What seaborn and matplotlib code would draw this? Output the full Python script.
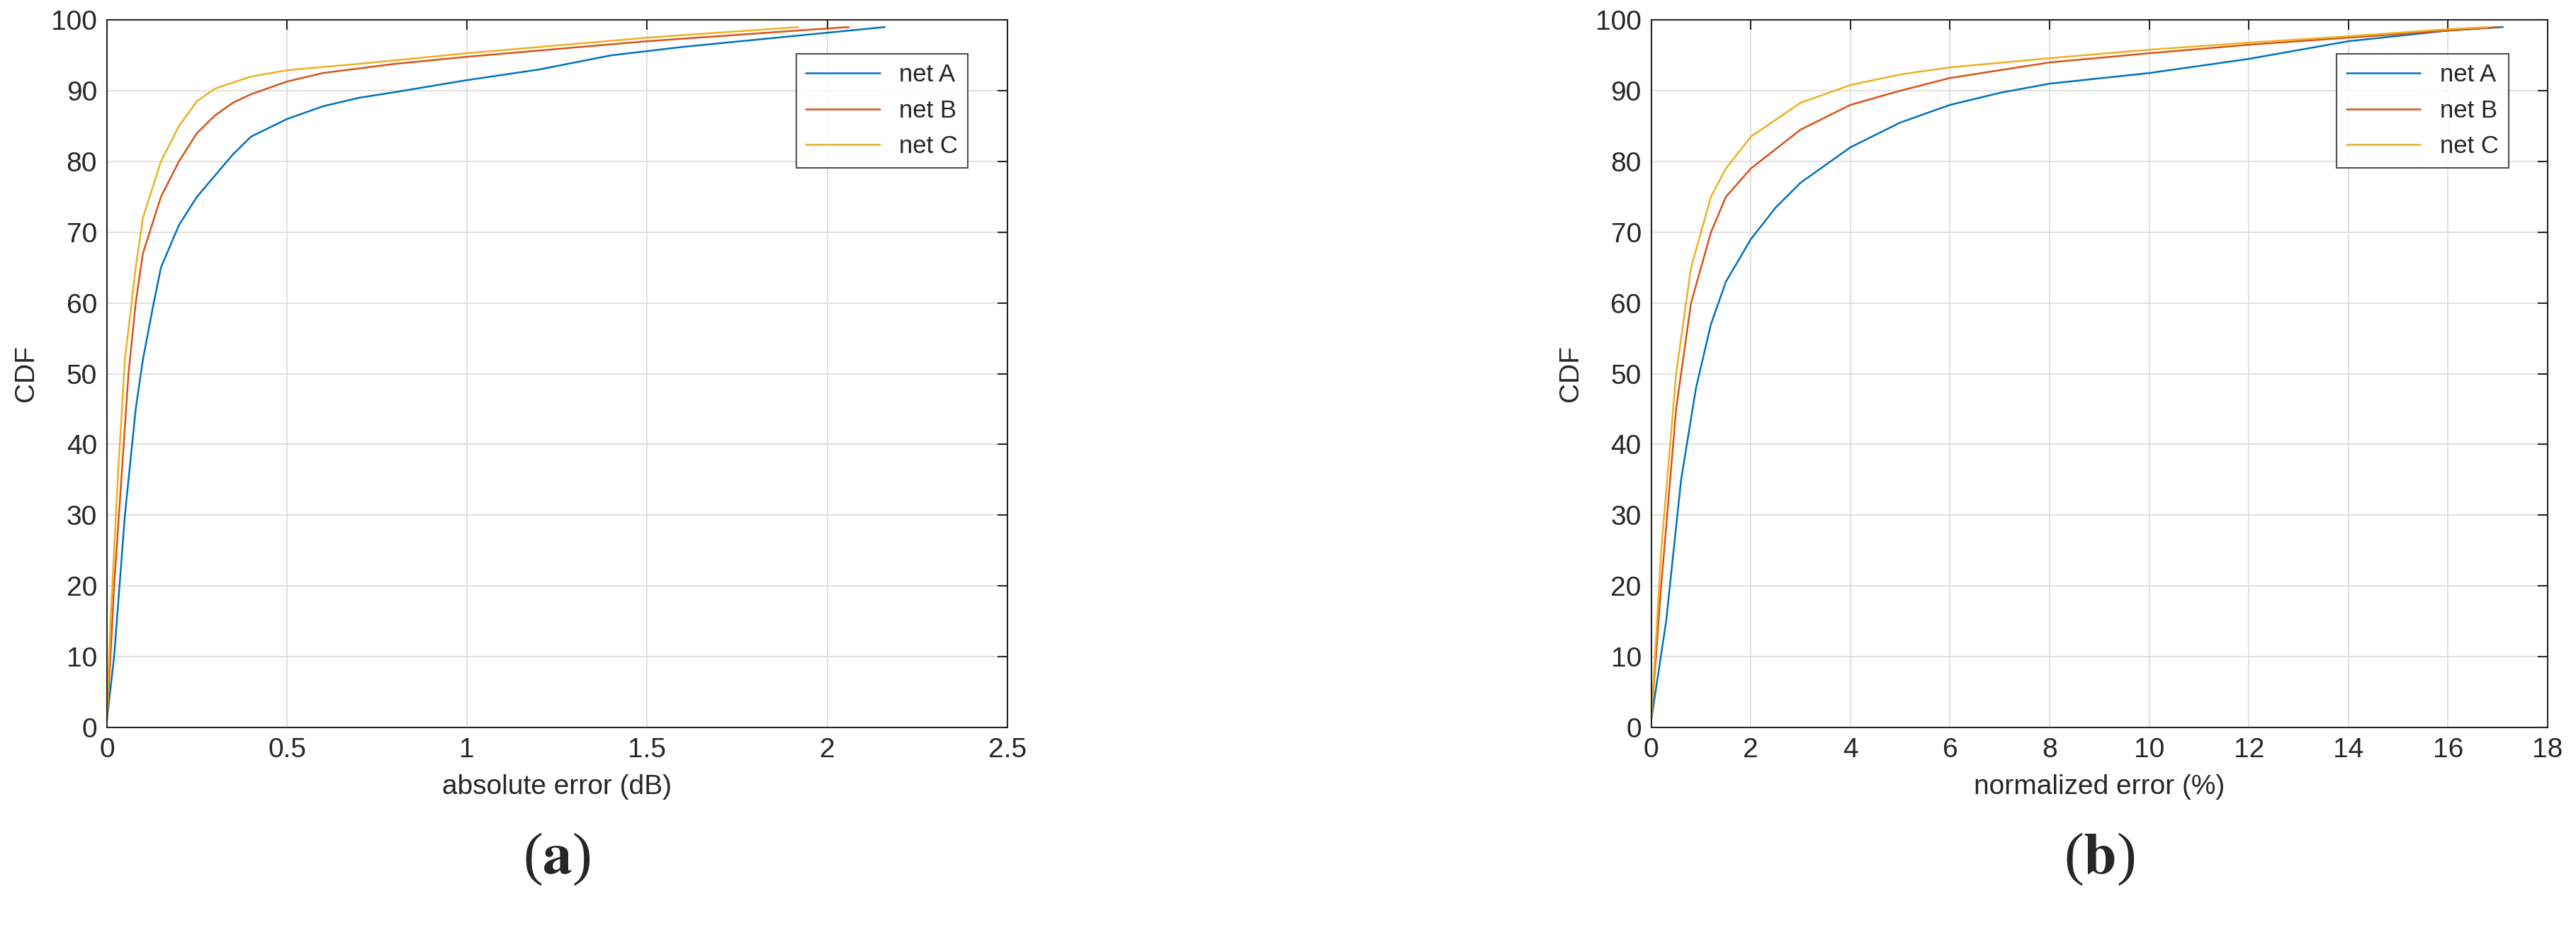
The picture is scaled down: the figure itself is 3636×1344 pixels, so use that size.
import numpy as np
import pandas as pd
import seaborn as sns
import matplotlib
matplotlib.use("Agg")
import matplotlib.pyplot as plt

sns.set_theme(style="white")
plt.rcParams['font.family'] = ['Liberation Sans', 'DejaVu Sans']

# Panel (a): absolute error (dB)
a_netA_x = [0, 0.02, 0.05, 0.08, 0.1, 0.13, 0.15, 0.2, 0.25, 0.3, 0.35, 0.4, 0.5, 0.6, 0.7, 0.8, 1.0, 1.2, 1.4, 1.6, 1.8, 2.0, 2.16]
a_netA_y = [1, 10, 30, 45, 52, 60, 65, 71, 75, 78, 81, 83.5, 86, 87.8, 89, 89.8, 91.5, 93, 95, 96.2, 97.2, 98.2, 99]
a_netB_x = [0, 0.01, 0.02, 0.04, 0.06, 0.08, 0.1, 0.15, 0.2, 0.25, 0.3, 0.35, 0.4, 0.5, 0.6, 0.8, 1.0, 1.5, 2.0, 2.06]
a_netB_y = [1, 10, 20, 35, 50, 60, 67, 75, 80, 84, 86.5, 88.3, 89.5, 91.3, 92.5, 93.8, 94.8, 97, 98.8, 99]
a_netC_x = [0, 0.01, 0.03, 0.05, 0.08, 0.1, 0.15, 0.2, 0.25, 0.3, 0.4, 0.5, 0.7, 1.0, 1.5, 1.92]
a_netC_y = [1, 15, 35, 52, 65, 72, 80, 85, 88.5, 90.3, 92, 92.9, 93.8, 95.3, 97.5, 99]

# Panel (b): normalized error (%)
b_netA_x = [0, 0.3, 0.6, 0.9, 1.2, 1.5, 2, 2.5, 3, 4, 5, 6, 7, 8, 10, 12, 14, 16, 17.1]
b_netA_y = [1, 15, 35, 48, 57, 63, 69, 73.5, 77, 82, 85.5, 88, 89.7, 91, 92.5, 94.5, 97, 98.5, 99]
b_netB_x = [0, 0.2, 0.5, 0.8, 1.2, 1.5, 2, 3, 4, 5, 6, 8, 10, 12, 14, 16, 17]
b_netB_y = [1, 20, 45, 60, 70, 75, 79, 84.5, 88, 90, 91.8, 94, 95.3, 96.5, 97.5, 98.5, 99]
b_netC_x = [0, 0.2, 0.5, 0.8, 1.2, 1.5, 2, 3, 4, 5, 6, 8, 10, 12, 14, 16, 16.8]
b_netC_y = [1, 25, 50, 65, 75, 79, 83.5, 88.3, 90.8, 92.3, 93.3, 94.6, 95.8, 96.8, 97.7, 98.7, 99]

series_names = ["net A", "net B", "net C"]
colors = ["#0072BD", "#D95319", "#EDB120"]

def frame(xs, ys):
    return pd.concat([pd.DataFrame({"x": x, "y": y, "net": n}) for x, y, n in zip(xs, ys, series_names)])

fig = plt.figure(figsize=(36.36, 13.44), dpi=100)
ax1 = fig.add_axes([0.0415, 0.236, 0.3495, 0.743])
ax2 = fig.add_axes([0.641, 0.236, 0.348, 0.743])

panels = [
    (ax1, frame([a_netA_x, a_netB_x, a_netC_x], [a_netA_y, a_netB_y, a_netC_y]), (0, 2.5), np.arange(0, 2.51, 0.5), ["0", "0.5", "1", "1.5", "2", "2.5"], "absolute error (dB)", "a"),
    (ax2, frame([b_netA_x, b_netB_x, b_netC_x], [b_netA_y, b_netB_y, b_netC_y]), (0, 18), np.arange(0, 19, 2), [str(v) for v in range(0, 19, 2)], "normalized error (%)", "b"),
]
for ax, df, xlim, xt, xtl, xlabel, tag in panels:
    sns.lineplot(data=df, x="x", y="y", hue="net", palette=colors, ax=ax, linewidth=1.8, sort=False, estimator=None)
    ax.set_xlim(*xlim)
    ax.set_ylim(0, 100)
    ax.set_xticks(xt)
    ax.set_xticklabels(xtl)
    ax.set_yticks(range(0, 101, 10))
    ax.grid(True, color="#dcdcdc", linewidth=1.2)
    ax.tick_params(direction="in", length=10, width=1.5, labelsize=28, top=True, right=True, colors="#262626", pad=10)
    for s in ax.spines.values():
        s.set_color("#262626"); s.set_linewidth(1.5)
    ax.set_xlabel(xlabel, fontsize=28, color="#262626", labelpad=12)
    ax.set_ylabel("CDF", fontsize=28, color="#262626", labelpad=12)
    leg = ax.legend(loc="upper right", fontsize=25, frameon=True, fancybox=False, edgecolor="#262626",
                    bbox_to_anchor=(0.97, 0.97), handlelength=3)
    leg.get_frame().set_linewidth(1.5)
    pos = ax.get_position()
    fig.text((pos.x0 + pos.x1) / 2, 0.097, "(" + r"$\mathbf{" + tag + "}$" + ")", ha="center", va="center",
             fontsize=60, family=["Liberation Serif", "DejaVu Serif"], math_fontfamily="stix")

fig.savefig("out.png", dpi=100)
